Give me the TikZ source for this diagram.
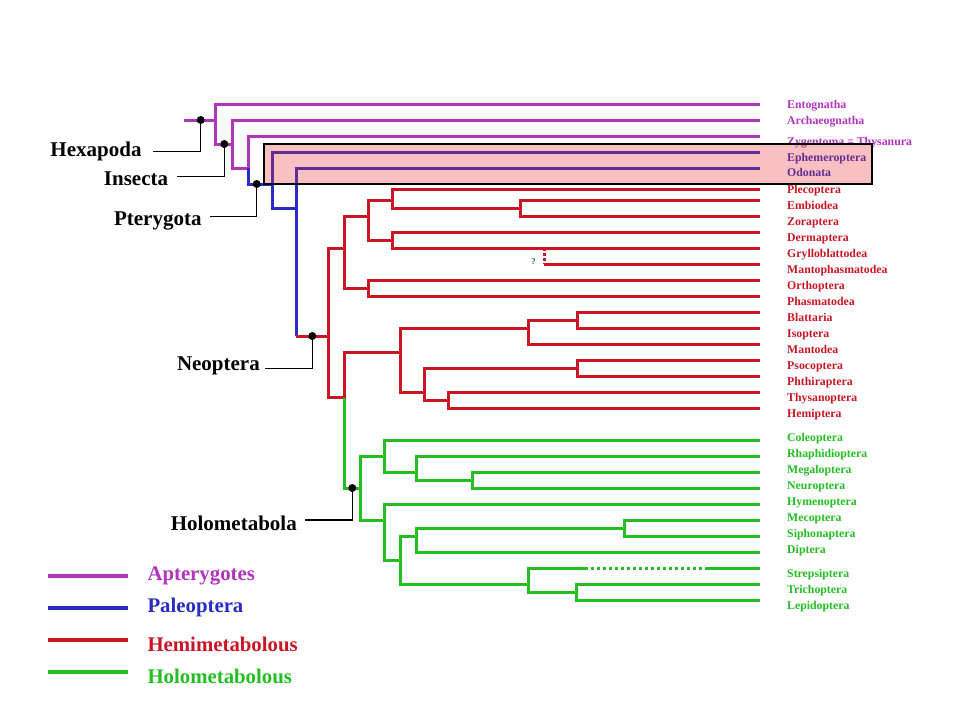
\documentclass[tikz,border=0pt]{standalone}
\usepackage{fontspec}
\setmainfont{Liberation Serif}
\definecolor{apt}{RGB}{176,52,190}
\definecolor{pal}{RGB}{40,44,196}
\definecolor{hemi}{RGB}{200,22,36}
\definecolor{holo}{RGB}{34,190,34}
\definecolor{boxred}{RGB}{231,45,45}
\tikzset{
  br/.style={line width=3pt},
  apl/.style={br, draw=apt},
  pall/.style={br, draw=pal},
  heml/.style={br, draw=hemi},
  holl/.style={br, draw=holo},
  tax/.style={anchor=base west, inner sep=0pt, font=\fontsize{11.8}{13}\selectfont\bfseries},
  big/.style={anchor=base east, inner sep=0pt, font=\fontsize{21}{24}\selectfont\bfseries},
  legtext/.style={anchor=base west, inner sep=0pt, font=\fontsize{20.8}{24}\selectfont\bfseries},
  lead/.style={line width=1.3pt, draw=black},
  bdot/.style={circle, fill=black, inner sep=0pt, minimum size=8pt},
}
\begin{document}
\begin{tikzpicture}[x=1pt,y=-1pt]
\useasboundingbox (0,0) rectangle (960,720);

% ---- Apterygotes
\draw[apl] (184,120) -- (215,120);
\draw[apl] (760,104) -| (215,144) -- (232,144);
\draw[apl] (760,120) -| (232,168) -- (248,168);
\draw[apl] (760,136) -| (248,168);
% ---- Paleoptera
\draw[pall] (248,168) |- (272,184);
\draw[pall] (760,152) -| (272,208) -- (296,208);
\draw[pall] (760,168) -| (296,336);
% ---- Hemimetabola
\draw[heml] (296,336) -- (328,336);
\draw[heml] (344,248) -| (328,397) -- (344,397);
\draw[heml] (368,216) -| (344,288) -- (368,288);
\draw[heml] (392,200) -| (368,240) -- (392,240);
\draw[heml] (760,189) -| (392,208) -- (520,208);
\draw[heml] (760,200) -| (520,216) -- (760,216);
\draw[heml] (760,232) -| (392,248) -- (760,248);
\draw[heml, dash pattern=on 3pt off 2pt] (544,248) -- (544,264);
\draw[heml] (544,264) -- (760,264);
\draw[heml] (760,280) -| (368,296) -- (760,296);
\draw[heml] (400,352) -| (344,398);
\draw[heml] (528,328) -| (400,392) -- (424,392);
\draw[heml] (577,320) -| (528,344) -- (760,344);
\draw[heml] (760,312) -| (577,328) -- (760,328);
\draw[heml] (577,368) -| (424,400) -- (448,400);
\draw[heml] (760,360) -| (577,376) -- (760,376);
\draw[heml] (760,392) -| (448,408) -- (760,408);
% ---- Holometabola
\draw[holl] (344,398) |- (360,488);
\draw[holl] (384,456) -| (360,520) -- (384,520);
\draw[holl] (760,440) -| (384,472) -- (416,472);
\draw[holl] (760,456) -| (416,480) -- (472,480);
\draw[holl] (760,472) -| (472,488) -- (760,488);
\draw[holl] (760,504) -| (384,560) -- (400,560);
\draw[holl] (416,536) -| (400,584) -- (528,584);
\draw[holl] (624,528) -| (416,552) -- (760,552);
\draw[holl] (760,520) -| (624,536) -- (760,536);
\draw[holl] (585,568) -| (528,592) -- (576,592);
\draw[holl, dash pattern=on 3pt off 3pt] (585,568) -- (705,568);
\draw[holl] (705,568) -- (760,568);
\draw[holl] (760,584) -| (576,600) -- (760,600);

\node[font=\fontsize{9}{10}\selectfont, inner sep=0pt] (qm) at (533.3,261.7) {?};

% ---- taxon labels
\foreach \nm/\yy/\cl/\tx in {
  t1/108.5/apt/Entognatha, t2/124.5/apt/Archaeognatha, t3/145.5/apt/Zygentoma = Thysanura,
  t4/161.2/pal/Ephemeroptera, t5/176.8/pal/Odonata,
  t6/193.5/hemi/Plecoptera, t7/209.5/hemi/Embiodea, t8/225.5/hemi/Zoraptera,
  t9/241.2/hemi/Dermaptera, t10/257.8/hemi/Grylloblattodea, t11/273.5/hemi/Mantophasmatodea,
  t12/289.5/hemi/Orthoptera, t13/305.2/hemi/Phasmatodea, t14/321.8/hemi/Blattaria,
  t15/337.5/hemi/Isoptera, t16/353.5/hemi/Mantodea, t17/369.5/hemi/Psocoptera,
  t18/385.5/hemi/Phthiraptera, t19/401.5/hemi/Thysanoptera, t20/417.5/hemi/Hemiptera,
  t21/441.2/holo/Coleoptera, t22/457.5/holo/Rhaphidioptera, t23/473.5/holo/Megaloptera,
  t24/489.5/holo/Neuroptera, t25/505.5/holo/Hymenoptera, t26/521.5/holo/Mecoptera,
  t27/537.5/holo/Siphonaptera, t28/553.5/holo/Diptera, t29/577.5/holo/Strepsiptera,
  t30/593.5/holo/Trichoptera, t31/609.5/holo/Lepidoptera}
  \node[tax, text=\cl] (\nm) at (787,\yy) {\tx};

% ---- Paleoptera box
\draw[line width=1.2pt, draw=black, fill=boxred, fill opacity=0.3] (264,144) rectangle (872,184);

% ---- clade labels
\node[bdot] (dhex) at (200.7,120) {};
\node[bdot] (dins) at (224.3,144) {};
\node[bdot] (dpte) at (256.7,184) {};
\node[bdot] (dneo) at (312.3,336) {};
\node[bdot] (dhol) at (352.3,488) {};
\coordinate (chex) at (153,151.7);
\coordinate (cins) at (176.7,176.7);
\coordinate (cpte) at (210,216.7);
\coordinate (cneo) at (265,368.3);
\coordinate (chol) at (305,520);
\draw[lead] (dhex.center) |- (chex);
\draw[lead] (dins.center) |- (cins);
\draw[lead] (dpte.center) |- (cpte);
\draw[lead] (dneo.center) |- (cneo);
\draw[lead] (dhol.center) |- (chol);
\node[big] (lhex) at (141.7,156) {Hexapoda};
\node[big] (lins) at (168.3,185) {Insecta};
\node[big] (lpte) at (201.7,225) {Pterygota};
\node[big] (lneo) at (260,370.5) {Neoptera};
\node[big] (lhol) at (297,530) {Holometabola};

% ---- legend
\draw[line width=3.3pt, draw=apt] (48,576) -- (128,576);
\draw[line width=3.3pt, draw=pal] (48,608) -- (128,608);
\draw[line width=3.3pt, draw=hemi] (48,640) -- (128,640);
\draw[line width=3.3pt, draw=holo] (48,672) -- (128,672);
\node[legtext, text=apt] (la) at (147.3,580.7) {Apterygotes};
\node[legtext, text=pal] (lp) at (147.3,612.7) {Paleoptera};
\node[legtext, text=hemi] (lh) at (147.3,651.7) {Hemimetabolous};
\node[legtext, text=holo] (lo) at (147.3,683.3) {Holometabolous};
\end{tikzpicture}
\end{document}
